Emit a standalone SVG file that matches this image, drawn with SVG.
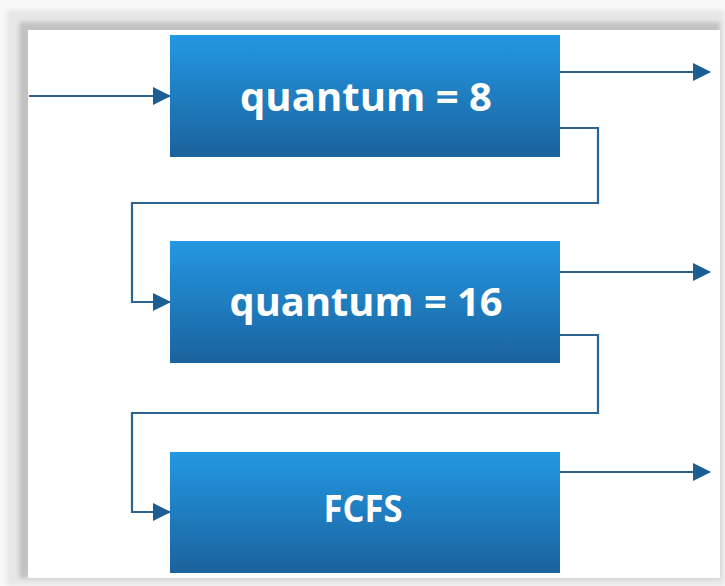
<svg xmlns="http://www.w3.org/2000/svg" width="725" height="586" viewBox="0 0 725 586">
  <defs>
    <linearGradient id="boxGrad" x1="0" y1="0" x2="0" y2="1">
      <stop offset="0" stop-color="#2398e2"/>
      <stop offset="1" stop-color="#1b629d"/>
    </linearGradient>
    <filter id="soft" x="-5%" y="-5%" width="110%" height="110%">
      <feGaussianBlur stdDeviation="2"/>
    </filter>
    <marker id="arrow" viewBox="0 0 18 18" refX="17" refY="9" markerWidth="18" markerHeight="18" markerUnits="userSpaceOnUse" orient="auto">
      <path d="M0,0 L18,9 L0,18 Z" fill="#1d5e92"/>
    </marker>
    <style>
      .box { fill: url(#boxGrad); }
      .label { font-family: "Open Sans", "Liberation Sans", sans-serif; font-weight: bold; font-size: 39px; fill: #ffffff; text-anchor: middle; }
      .conn { fill: none; stroke: #2a6494; stroke-width: 2.2; stroke-linejoin: miter; }
    </style>
  </defs>

  <!-- frame / shadow -->
  <rect x="0" y="0" width="725" height="586" fill="#f8f8f8"/>
  <rect x="7" y="10" width="718" height="576" fill="#e7e7e7" filter="url(#soft)"/>
  <rect x="19" y="22" width="701" height="556" fill="#c2c2c2" filter="url(#soft)"/>
  <rect x="28" y="30" width="692" height="548" fill="#ffffff"/>

  <g id="connectors">
    <path class="conn" d="M29,96 L170,96" marker-end="url(#arrow)"/>
    <path class="conn" d="M560,72 L710,72" marker-end="url(#arrow)"/>
    <path class="conn" d="M560,128 L598,128 L598,203 L132,203 L132,302 L170,302" marker-end="url(#arrow)"/>
    <path class="conn" d="M560,272 L710,272" marker-end="url(#arrow)"/>
    <path class="conn" d="M560,335 L598,335 L598,413 L132,413 L132,512 L170,512" marker-end="url(#arrow)"/>
    <path class="conn" d="M560,472 L710,472" marker-end="url(#arrow)"/>
  </g>

  <g id="node-q8">
    <rect class="box" x="170" y="35" width="390" height="122"/>
    <text class="label" x="366" y="110.5" textLength="252" lengthAdjust="spacingAndGlyphs">quantum = 8</text>
  </g>
  <g id="node-q16">
    <rect class="box" x="170" y="241" width="390" height="122"/>
    <text class="label" x="366" y="316" textLength="273" lengthAdjust="spacingAndGlyphs">quantum = 16</text>
  </g>
  <g id="node-fcfs">
    <rect class="box" x="170" y="452" width="390" height="121"/>
    <text class="label" x="363" y="521.5" textLength="79" lengthAdjust="spacingAndGlyphs" style="font-size:37px">FCFS</text>
  </g>
</svg>
